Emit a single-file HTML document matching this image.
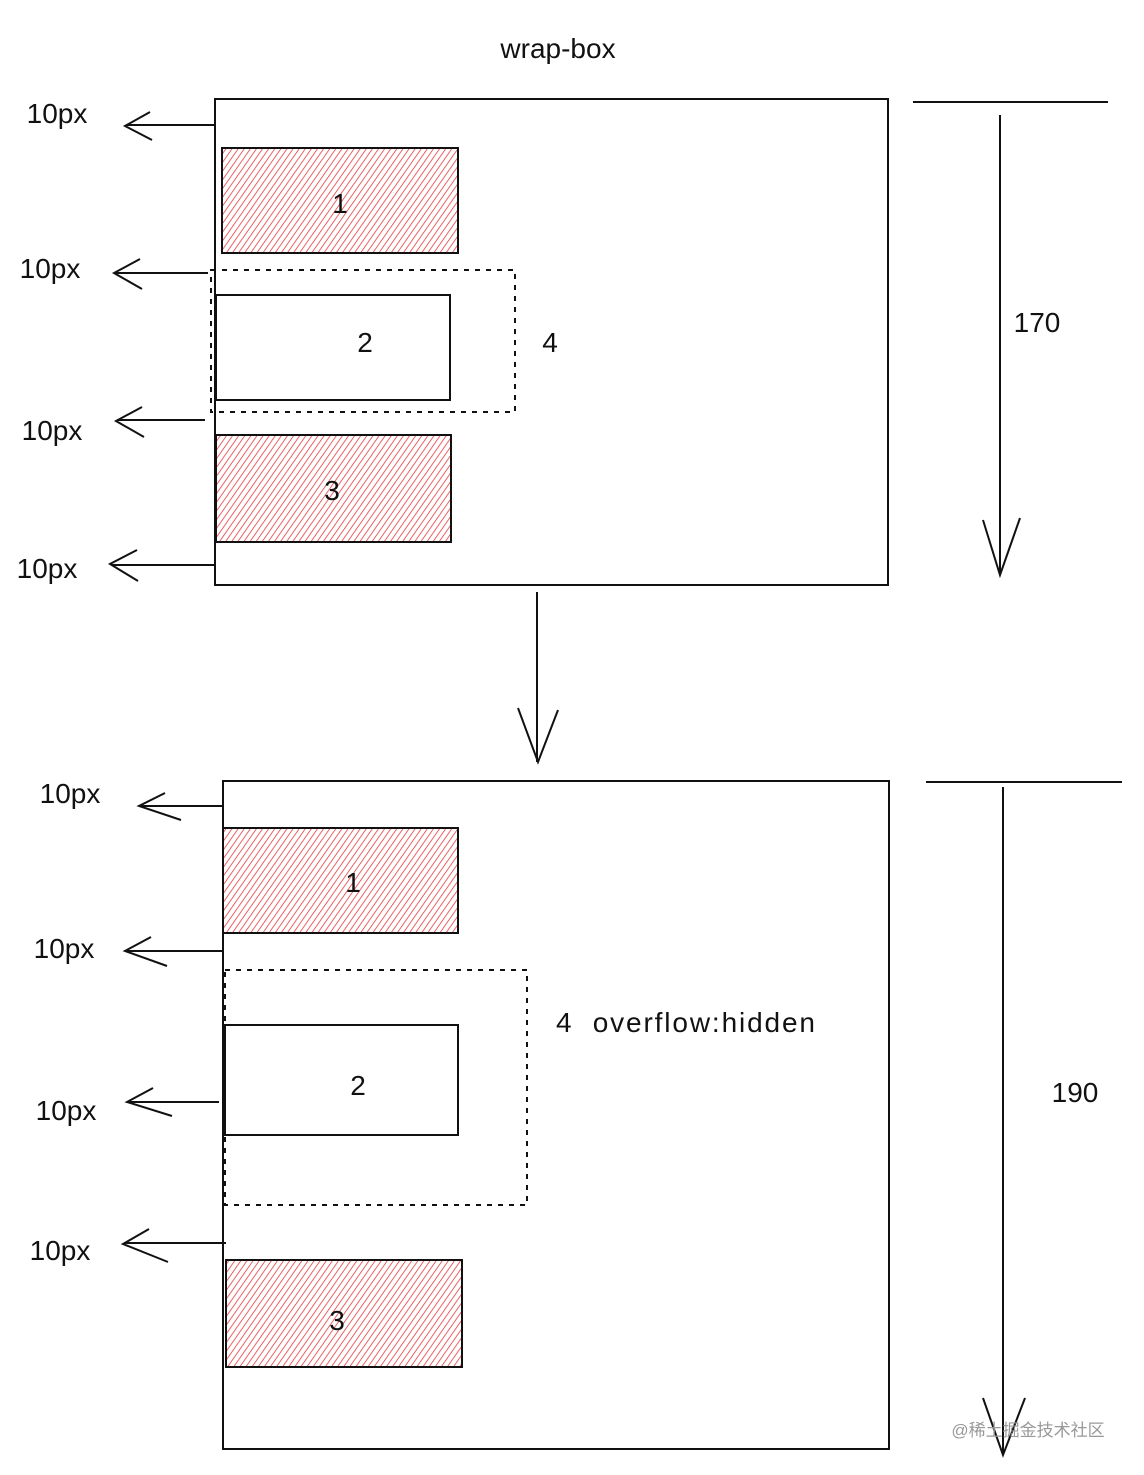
<!DOCTYPE html>
<html><head><meta charset="utf-8"><style>
html,body{margin:0;padding:0;background:#fff;}
svg{display:block}
text{font-family:"Liberation Sans","Noto Sans CJK SC",sans-serif;fill:#111}
</style></head><body>
<svg width="1144" height="1475" viewBox="0 0 1144 1475" xmlns="http://www.w3.org/2000/svg">
<defs>
<pattern id="h" width="5" height="5" patternUnits="userSpaceOnUse" patternTransform="rotate(35)">
<line x1="0" y1="0" x2="0" y2="5" stroke="#e63c40" stroke-width="1.6"/>
</pattern>
</defs>
<g fill="none" stroke="#111" stroke-width="2">
<rect x="215" y="99" width="673" height="486"/>
<rect x="222" y="148" width="236" height="105" fill="url(#h)"/>
<rect x="216" y="295" width="234" height="105"/>
<rect x="216" y="435" width="235" height="107" fill="url(#h)"/>
<rect x="211" y="270" width="304" height="142" stroke-dasharray="5,6"/>
<path d="M215 125H127M150 112L125 126L152 140"/>
<path d="M208 273H115M140 259L114 273L142 289"/>
<path d="M205 420H117M142 407L116 421L144 437"/>
<path d="M215 565H112M137 550L110 564L138 581"/>
<path d="M913 102H1108M1000 115V575M983 520L1000 575L1020 518"/>
<path d="M537 592V762M518 708L538 762L558 710"/>
<rect x="223" y="781" width="666" height="668"/>
<rect x="223" y="828" width="235" height="105" fill="url(#h)"/>
<rect x="225" y="1025" width="233" height="110"/>
<rect x="226" y="1260" width="236" height="107" fill="url(#h)"/>
<rect x="225" y="970" width="302" height="235" stroke-dasharray="5,6"/>
<path d="M223 806H140M165 793L139 806L181 820"/>
<path d="M223 951H126M151 937L125 951L167 966"/>
<path d="M219 1102H128M153 1088L127 1102L172 1116"/>
<path d="M226 1243H124M149 1229L123 1244L168 1262"/>
<path d="M926 782H1122M1003 787V1455M983 1398L1003 1455L1025 1398"/>
</g>
<g font-size="28">
<text x="558" y="58" text-anchor="middle">wrap-box</text>
<text x="57" y="123" text-anchor="middle">10px</text>
<text x="50" y="278" text-anchor="middle">10px</text>
<text x="52" y="440" text-anchor="middle">10px</text>
<text x="47" y="578" text-anchor="middle">10px</text>
<text x="340" y="213" text-anchor="middle">1</text>
<text x="365" y="352" text-anchor="middle">2</text>
<text x="332" y="500" text-anchor="middle">3</text>
<text x="550" y="352" text-anchor="middle">4</text>
<text x="1037" y="332" text-anchor="middle">170</text>
<text x="70" y="803" text-anchor="middle">10px</text>
<text x="64" y="958" text-anchor="middle">10px</text>
<text x="66" y="1120" text-anchor="middle">10px</text>
<text x="60" y="1260" text-anchor="middle">10px</text>
<text x="353" y="892" text-anchor="middle">1</text>
<text x="358" y="1095" text-anchor="middle">2</text>
<text x="337" y="1330" text-anchor="middle">3</text>
<text x="556" y="1032" textLength="259" lengthAdjust="spacing" xml:space="preserve">4  overflow:hidden</text>
<text x="1075" y="1102" text-anchor="middle">190</text>
</g>
<text x="1028" y="1436" font-size="17" text-anchor="middle" style="fill:#999">@稀土掘金技术社区</text>
</svg>
</body></html>
